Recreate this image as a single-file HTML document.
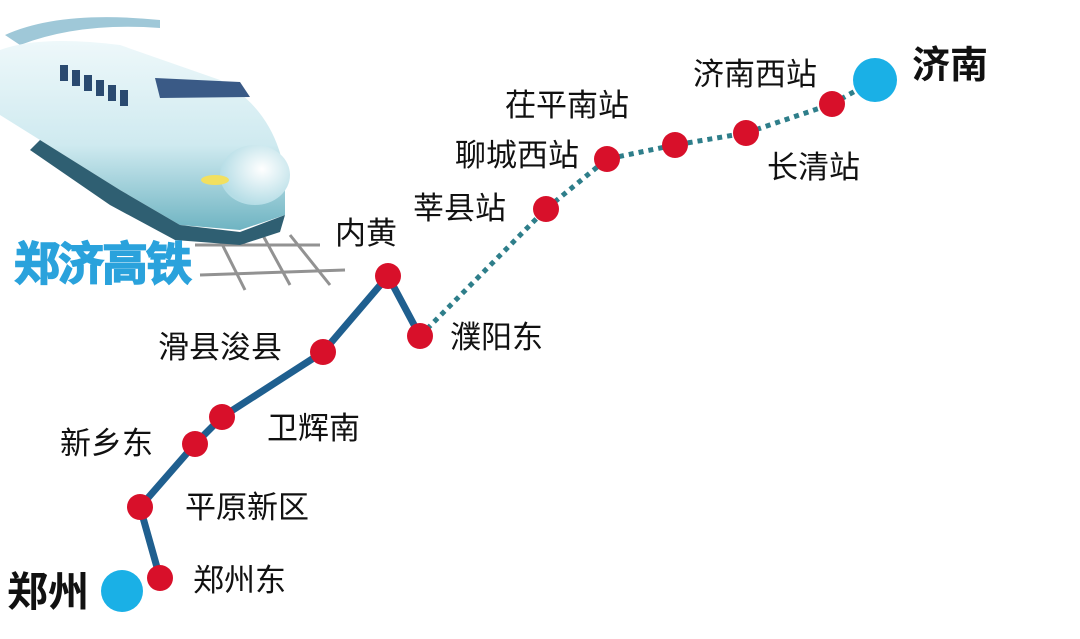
<!DOCTYPE html>
<html><head><meta charset="utf-8"><style>
body{margin:0;background:#fff;}
svg{display:block}
text{font-family:"Liberation Sans","Noto Sans CJK SC",sans-serif;}
</style></head><body>
<svg width="1080" height="639" viewBox="0 0 1080 639" xmlns="http://www.w3.org/2000/svg">
<defs>
<linearGradient id="tb" x1="0" y1="0" x2="0" y2="1">
<stop offset="0" stop-color="#eef8fa"/><stop offset="0.55" stop-color="#cfeaf0"/><stop offset="1" stop-color="#6fb4c2"/>
</linearGradient>
<radialGradient id="nose" cx="0.6" cy="0.4" r="0.6">
<stop offset="0" stop-color="#ffffff"/><stop offset="1" stop-color="#b5dde6"/>
</radialGradient>
</defs>
<g stroke="#777" stroke-width="3" opacity="0.8">
<line x1="195" y1="245" x2="320" y2="245"/>
<line x1="200" y1="275" x2="345" y2="270"/>
<line x1="215" y1="230" x2="245" y2="290"/>
<line x1="260" y1="230" x2="290" y2="285"/>
<line x1="290" y1="235" x2="330" y2="285"/>
</g>
<path d="M5,35 Q60,10 160,20 L160,28 Q80,22 20,45 Z" fill="#9fc8d8"/>
<path d="M0,50 Q40,35 120,45 L220,80 Q275,110 285,175 L285,215 L240,230 L180,225 L120,190 L40,140 L0,115 Z" fill="url(#tb)"/>
<path d="M40,140 L120,190 L180,225 L240,232 L285,215 L280,232 L240,245 L175,240 L110,205 L30,150 Z" fill="#2f5f72"/>
<ellipse cx="255" cy="175" rx="35" ry="30" fill="url(#nose)"/>
<path d="M155,78 L240,82 L250,97 L160,98 Z" fill="#3a5a86"/>
<g fill="#2a4a70">
<rect x="60" y="65" width="8" height="16"/><rect x="72" y="70" width="8" height="16"/><rect x="84" y="75" width="8" height="16"/><rect x="96" y="80" width="8" height="16"/><rect x="108" y="85" width="8" height="16"/><rect x="120" y="90" width="8" height="16"/>
</g>
<ellipse cx="215" cy="180" rx="14" ry="5" fill="#f2e060"/>
<text x="14" y="280" font-size="46" font-weight="bold" fill="#2aa2dc" stroke="#2aa2dc" stroke-width="1.5" letter-spacing="-2">郑济高铁</text>
<polyline points="160,578 140,507 195,444 222,417 323,352 388,276 420,336" fill="none" stroke="#1f5f8f" stroke-width="7" stroke-linejoin="round"/>
<polyline points="420,336 546,209 607,159 675,145 746,133 832,104 875,80" fill="none" stroke="#2e7e8a" stroke-width="5" stroke-dasharray="5,5"/>
<circle cx="122" cy="591" r="21" fill="#1ab0e6"/>
<circle cx="875" cy="80" r="22" fill="#1ab0e6"/>
<g fill="#d8102a">
<circle cx="160" cy="578" r="13"/><circle cx="140" cy="507" r="13"/><circle cx="195" cy="444" r="13"/><circle cx="222" cy="417" r="13"/><circle cx="323" cy="352" r="13"/><circle cx="388" cy="276" r="13"/><circle cx="420" cy="336" r="13"/><circle cx="546" cy="209" r="13"/><circle cx="607" cy="159" r="13"/><circle cx="675" cy="145" r="13"/><circle cx="746" cy="133" r="13"/><circle cx="832" cy="104" r="13"/>
</g>
<g font-size="31" fill="#111">
<text x="193" y="591">郑州东</text>
<text x="185" y="518">平原新区</text>
<text x="60" y="454">新乡东</text>
<text x="267" y="439">卫辉南</text>
<text x="158" y="358">滑县浚县</text>
<text x="335" y="244">内黄</text>
<text x="450" y="348">濮阳东</text>
<text x="413" y="219">莘县站</text>
<text x="455" y="166">聊城西站</text>
<text x="505" y="116">茌平南站</text>
<text x="767" y="178">长清站</text>
<text x="693" y="85">济南西站</text>
</g>
<text x="7" y="606" font-size="41" font-weight="bold" fill="#111">郑州</text>
<text x="912" y="78" font-size="38" font-weight="bold" fill="#111">济南</text>
</svg>
</body></html>
